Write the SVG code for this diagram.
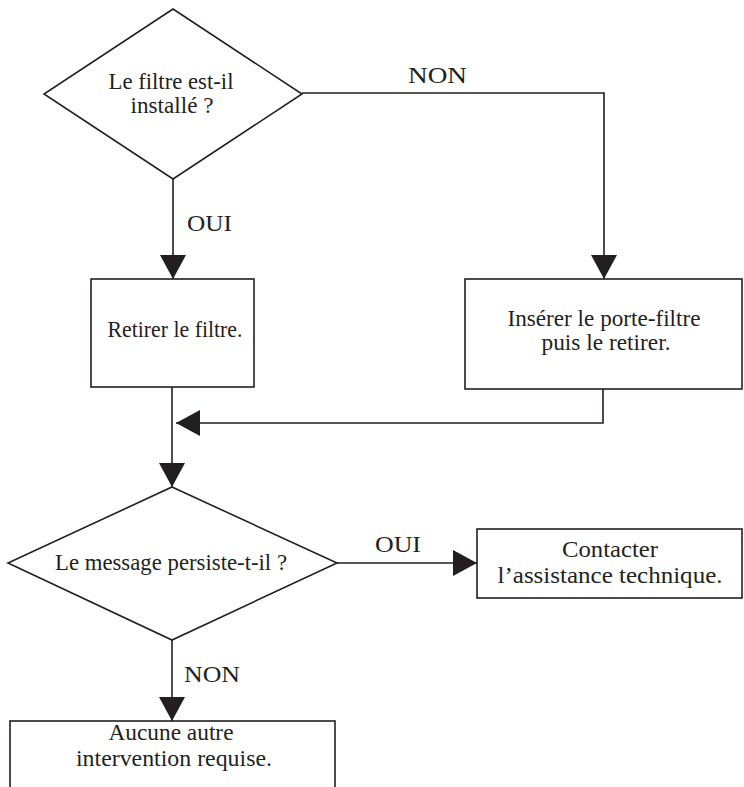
<svg xmlns="http://www.w3.org/2000/svg" width="744" height="787" viewBox="0 0 744 787">
<defs>
<style>
.shape{fill:#fff;stroke:#231f20;stroke-width:1.6}
.conn{fill:none;stroke:#231f20;stroke-width:1.6}
.t{font-family:"Liberation Serif","Times New Roman",serif;font-size:22.5px;fill:#231f20;text-anchor:middle}
.lbl{font-family:"Liberation Serif","Times New Roman",serif;font-size:22.5px;fill:#231f20}
</style>
<marker id="ah" viewBox="0 0 24 26" refX="24" refY="13" markerWidth="24" markerHeight="26" markerUnits="userSpaceOnUse" orient="auto">
<path d="M0,0 L24,13 L0,26 Z" fill="#231f20"/>
</marker>
</defs>
<rect width="744" height="787" fill="#fff"/>
<g id="connectors">
<path class="conn" d="M302,93 H604 V279" marker-end="url(#ah)"/>
<path class="conn" d="M173,179 V279" marker-end="url(#ah)"/>
<path class="conn" d="M603,389 V423 H176" marker-end="url(#ah)"/>
<path class="conn" d="M172,387 V487" marker-end="url(#ah)"/>
<path class="conn" d="M337,563 H477" marker-end="url(#ah)"/>
<path class="conn" d="M172,640 V721" marker-end="url(#ah)"/>
<text class="lbl" x="408" y="83" textLength="59" lengthAdjust="spacingAndGlyphs">NON</text>
<text class="lbl" x="187" y="231" textLength="45" lengthAdjust="spacingAndGlyphs">OUI</text>
<text class="lbl" x="375" y="552" textLength="46" lengthAdjust="spacingAndGlyphs">OUI</text>
<text class="lbl" x="184" y="682" textLength="56" lengthAdjust="spacingAndGlyphs">NON</text>
</g>
<g id="d1">
<polygon class="shape" points="173,9 302,94 173,179 44,94"/>
<text class="t" x="171" y="89" textLength="125" lengthAdjust="spacingAndGlyphs">Le filtre est-il</text>
<text class="t" x="172" y="113" textLength="83" lengthAdjust="spacingAndGlyphs">installé ?</text>
</g>
<g id="r1">
<rect class="shape" x="91" y="279" width="163" height="108"/>
<text class="t" x="175" y="337" textLength="135" lengthAdjust="spacingAndGlyphs">Retirer le filtre.</text>
</g>
<g id="r2">
<rect class="shape" x="465" y="279" width="277" height="110"/>
<text class="t" x="604" y="326" textLength="193" lengthAdjust="spacingAndGlyphs">Insérer le porte-filtre</text>
<text class="t" x="606" y="350" textLength="129" lengthAdjust="spacingAndGlyphs">puis le retirer.</text>
</g>
<g id="d2">
<polygon class="shape" points="172,487 337,563 172,640 8,563"/>
<text class="t" x="171" y="570" textLength="232" lengthAdjust="spacingAndGlyphs">Le message persiste-t-il ?</text>
</g>
<g id="r3">
<rect class="shape" x="477" y="529" width="265" height="69"/>
<text class="t" x="610" y="557" textLength="96" lengthAdjust="spacingAndGlyphs">Contacter</text>
<text class="t" x="610" y="583" textLength="225" lengthAdjust="spacingAndGlyphs">l’assistance technique.</text>
</g>
<g id="r4">
<rect class="shape" x="10" y="721" width="325" height="80"/>
<text class="t" x="171" y="740" textLength="125" lengthAdjust="spacingAndGlyphs">Aucune autre</text>
<text class="t" x="174" y="766" textLength="196" lengthAdjust="spacingAndGlyphs">intervention requise.</text>
</g>
</svg>
